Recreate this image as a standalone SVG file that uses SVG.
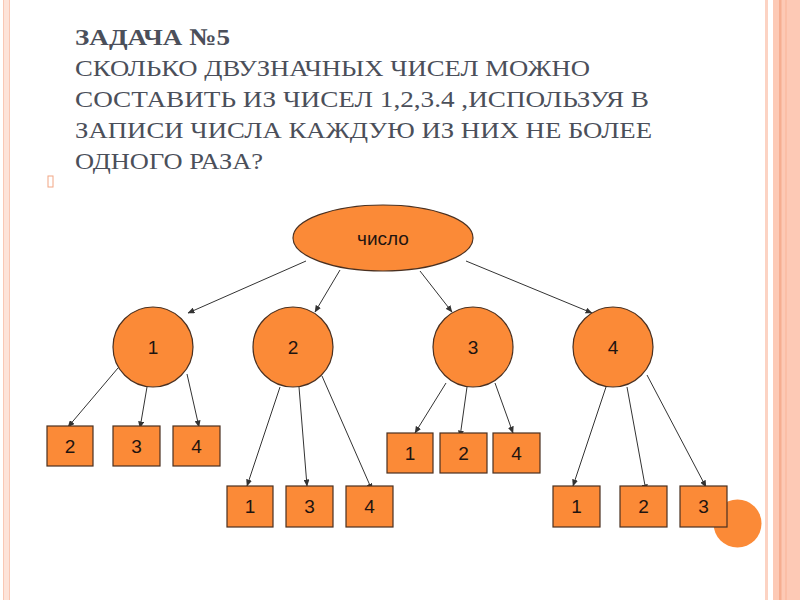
<svg xmlns="http://www.w3.org/2000/svg" width="800" height="600" viewBox="0 0 800 600">
<defs>
<style>
.title{font-family:"Liberation Serif","DejaVu Serif",serif;font-size:24px;fill:#4b4f5a}
.node{fill:#fb8a37;stroke:#4a3020;stroke-width:1.2}
.lbl{font-family:"Liberation Sans",Arial,sans-serif;font-size:19px;fill:#1e1410;text-anchor:middle;dominant-baseline:central}
.edge{stroke:#333;stroke-width:1;fill:none;marker-end:url(#ah)}
</style>
<marker id="ah" markerWidth="7" markerHeight="6" refX="6.5" refY="3" orient="auto" markerUnits="userSpaceOnUse">
<path d="M0,0 L7,3 L0,6 z" fill="#333"/>
</marker>
</defs>
<rect x="0" y="0" width="800" height="600" fill="#fff"/>
<!-- borders -->
<rect x="3" y="0" width="7" height="600" fill="#fde3d9"/>
<line x1="3.5" y1="0" x2="3.5" y2="600" stroke="#f9c7b4" stroke-width="1"/>
<line x1="9.5" y1="0" x2="9.5" y2="600" stroke="#f9c7b4" stroke-width="1"/>
<rect x="765" y="0" width="3" height="600" fill="#fcd3c3"/>
<rect x="773" y="0" width="27" height="600" fill="#fdc9b5"/>
<rect x="779" y="0" width="2.5" height="600" fill="#f6ad90"/>
<rect x="785" y="0" width="2" height="600" fill="#fbbea6"/>
<!-- title -->
<g id="title">
<text class="title" x="75" y="45" font-weight="bold" textLength="155" lengthAdjust="spacingAndGlyphs">ЗАДАЧА №5</text>
<text class="title" x="75" y="76" textLength="515" lengthAdjust="spacingAndGlyphs">СКОЛЬКО ДВУЗНАЧНЫХ ЧИСЕЛ МОЖНО</text>
<text class="title" x="75" y="107" textLength="574" lengthAdjust="spacingAndGlyphs">СОСТАВИТЬ ИЗ ЧИСЕЛ 1,2,3.4 ,ИСПОЛЬЗУЯ В</text>
<text class="title" x="75" y="138" textLength="577" lengthAdjust="spacingAndGlyphs">ЗАПИСИ ЧИСЛА КАЖДУЮ ИЗ НИХ НЕ БОЛЕЕ</text>
<text class="title" x="75" y="169" textLength="188" lengthAdjust="spacingAndGlyphs">ОДНОГО РАЗА?</text>
</g>
<rect x="48" y="176" width="5" height="11" fill="none" stroke="#f2a684" stroke-width="1"/>
<!-- decorative circle -->
<circle cx="737.5" cy="523.5" r="24" fill="#fb8a37"/>
<!-- connectors -->
<g id="connectors">
<line class="edge" x1="306" y1="261" x2="188" y2="313"/>
<line class="edge" x1="340" y1="270" x2="315" y2="312"/>
<line class="edge" x1="420" y1="271" x2="452" y2="312"/>
<line class="edge" x1="466" y1="261" x2="592" y2="313"/>
<line class="edge" x1="118" y1="368" x2="68" y2="427"/>
<line class="edge" x1="147" y1="387" x2="140" y2="428"/>
<line class="edge" x1="187" y1="374" x2="199" y2="427"/>
<line class="edge" x1="280" y1="387" x2="247" y2="486"/>
<line class="edge" x1="299" y1="387" x2="307" y2="486"/>
<line class="edge" x1="322" y1="376" x2="372" y2="490"/>
<line class="edge" x1="446" y1="383" x2="415" y2="433"/>
<line class="edge" x1="467" y1="387" x2="460" y2="437"/>
<line class="edge" x1="495" y1="383" x2="513" y2="433"/>
<line class="edge" x1="606" y1="387" x2="573" y2="486"/>
<line class="edge" x1="627" y1="387" x2="646" y2="491"/>
<line class="edge" x1="647" y1="375" x2="706" y2="487"/>
</g>
<!-- nodes -->
<g id="root"><ellipse class="node" cx="383" cy="238" rx="90" ry="33"/><text class="lbl" x="383" y="238">число</text></g>
<g id="n1"><circle class="node" cx="153" cy="347" r="40"/><text class="lbl" x="153" y="347">1</text></g>
<g id="n2"><circle class="node" cx="293" cy="347" r="40"/><text class="lbl" x="293" y="347">2</text></g>
<g id="n3"><circle class="node" cx="473" cy="347" r="40"/><text class="lbl" x="473" y="347">3</text></g>
<g id="n4"><circle class="node" cx="613" cy="347" r="40"/><text class="lbl" x="613" y="347">4</text></g>
<g id="n1-2"><rect class="node" x="47" y="426" width="46" height="40"/><text class="lbl" x="70" y="446">2</text></g>
<g id="n1-3"><rect class="node" x="113" y="426" width="47" height="40"/><text class="lbl" x="136.5" y="446">3</text></g>
<g id="n1-4"><rect class="node" x="173" y="426" width="47" height="40"/><text class="lbl" x="196.5" y="446">4</text></g>
<g id="n2-1"><rect class="node" x="227" y="486" width="46" height="41"/><text class="lbl" x="250" y="506.5">1</text></g>
<g id="n2-3"><rect class="node" x="286" y="486" width="47" height="41"/><text class="lbl" x="309.5" y="506.5">3</text></g>
<g id="n2-4"><rect class="node" x="346" y="486" width="47" height="41"/><text class="lbl" x="369.5" y="506.5">4</text></g>
<g id="n3-1"><rect class="node" x="387" y="433" width="46" height="40"/><text class="lbl" x="410" y="453">1</text></g>
<g id="n3-2"><rect class="node" x="440" y="433" width="47" height="40"/><text class="lbl" x="463.5" y="453">2</text></g>
<g id="n3-4"><rect class="node" x="493" y="433" width="47" height="40"/><text class="lbl" x="516.5" y="453">4</text></g>
<g id="n4-1"><rect class="node" x="553" y="486" width="47" height="41"/><text class="lbl" x="576.5" y="506.5">1</text></g>
<g id="n4-2"><rect class="node" x="620" y="486" width="47" height="41"/><text class="lbl" x="643.5" y="506.5">2</text></g>
<g id="n4-3"><rect class="node" x="680" y="486" width="47" height="41"/><text class="lbl" x="703.5" y="506.5">3</text></g>
</svg>
